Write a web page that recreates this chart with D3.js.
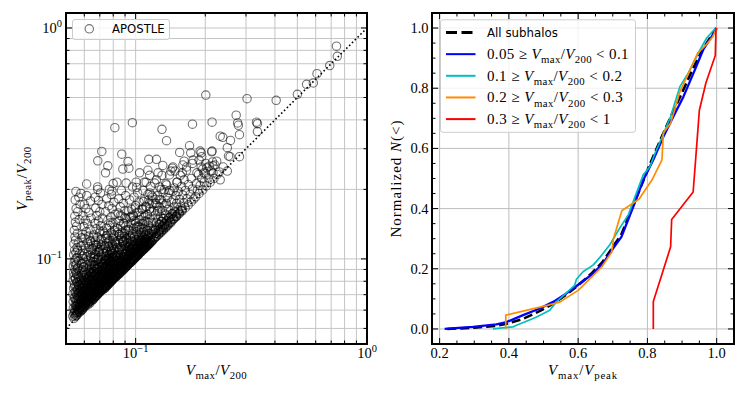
<!DOCTYPE html>
<html><head><meta charset="utf-8">
<script src="https://cdn.jsdelivr.net/npm/d3@7"></script>
<style>body{margin:0;background:#fff}</style>
</head><body>
<svg id="c" width="747" height="396" xmlns="http://www.w3.org/2000/svg"></svg>
<script>
// ---------------- DATA ----------------
// Left panel: APOSTLE subhalos [Vmax/V200, Vpeak/V200]
const apostleOutliers = [
[0.738,0.834],[0.744,0.754],[0.690,0.687],[0.608,0.634],[0.586,0.578],[0.548,0.570],[0.500,0.516],[0.201,0.512],[0.303,0.494],[0.405,0.486],[0.214,0.391],[0.272,0.419],[0.276,0.388],[0.278,0.379],[0.333,0.391],[0.336,0.385],[0.281,0.345],[0.336,0.356],[0.232,0.340],[0.238,0.336],[0.257,0.326],[0.249,0.303],[0.214,0.293],[0.252,0.279],[0.281,0.277],[0.0968,0.389],[0.0813,0.370],[0.130,0.364],[0.136,0.325],[0.176,0.383],[0.171,0.309],[0.155,0.289],[0.0714,0.292],[0.0686,0.266],[0.0758,0.253],[0.0741,0.236],[0.0871,0.284],[0.0927,0.264],[0.088,0.245],[0.0935,0.247],[0.114,0.270],[0.123,0.270],[0.131,0.254],[0.144,0.247],[0.0614,0.211],[0.058,0.192],[0.0686,0.200],
[0.173,0.288],[0.190,0.293],[0.192,0.288],[0.213,0.291],[0.162,0.265],[0.176,0.259],[0.188,0.268],[0.201,0.259],[0.215,0.263],[0.193,0.277],[0.192,0.250],[0.203,0.248],[0.216,0.253],[0.177,0.268],[0.166,0.250],[0.145,0.250],[0.159,0.236],[0.184,0.236],[0.197,0.236],[0.216,0.236],[0.232,0.220],[0.256,0.277],[0.239,0.250],[0.249,0.240],[0.224,0.265],
[0.104,0.236],[0.113,0.242],[0.125,0.236],[0.140,0.231],[0.109,0.215],[0.121,0.213],[0.136,0.209],[0.151,0.215],[0.101,0.204],[0.091,0.213],[0.083,0.215],[0.079,0.197],[0.115,0.193],[0.145,0.197]
];
const apostleBandA = [
[0.0535,0.0565],[0.0540,0.0580],[0.0552,0.0571],[0.0560,0.0590],[0.0545,0.0600],[0.0538,0.0612],[0.0571,0.0603],[0.0556,0.0625],[0.0548,0.0638],[0.0565,0.0645],[0.0537,0.0652],[0.0578,0.0660],[0.0551,0.0668],[0.0542,0.0680],[0.0569,0.0684],[0.0558,0.0697],[0.0536,0.0705],[0.0547,0.0718],[0.0575,0.0722],[0.0562,0.0735],[0.0539,0.0748],[0.0553,0.0756],[0.0570,0.0768],[0.0544,0.0779],[0.0560,0.0790],[0.0537,0.0805],[0.0549,0.0818],[0.0566,0.0826],[0.0541,0.0842],[0.0557,0.0855],[0.0539,0.0870],[0.0551,0.0884],[0.0546,0.0900],[0.0563,0.0913],[0.0538,0.0930],[0.0555,0.0948],[0.0543,0.0968],[0.0548,0.0990],[0.0560,0.1010],[0.0540,0.1040],[0.0552,0.1062],[0.0545,0.1090],[0.0558,0.1120],[0.0541,0.1160],[0.0550,0.1205],[0.0547,0.1245],[0.0560,0.1290],[0.0543,0.1330],[0.0556,0.1385],[0.0549,0.1440],[0.0570,0.1480],[0.0546,0.1530],[0.0562,0.1600],[0.0553,0.1650],[0.0575,0.1720],[0.0548,0.1800],[0.0568,0.1850],[0.0552,0.1960]
];
const apostleBandB = [
[0.0585,0.0600],[0.0592,0.0612],[0.0601,0.0620],[0.0610,0.0628],[0.0588,0.0635],[0.0620,0.0640],[0.0598,0.0648],[0.0632,0.0655],[0.0606,0.0660],[0.0615,0.0668],[0.0590,0.0675],[0.0640,0.0670],[0.0625,0.0682],[0.0603,0.0690],[0.0645,0.0695],[0.0612,0.0702],[0.0586,0.0710],[0.0630,0.0712],[0.0597,0.0722],[0.0620,0.0728],[0.0648,0.0735],[0.0608,0.0740],[0.0589,0.0750],[0.0636,0.0752],[0.0616,0.0762],[0.0600,0.0770],[0.0643,0.0775],[0.0625,0.0782],[0.0593,0.0790],[0.0610,0.0798],[0.0638,0.0805],[0.0585,0.0812],[0.0620,0.0818],[0.0602,0.0828],[0.0647,0.0832],[0.0630,0.0842],[0.0592,0.0850],[0.0614,0.0858],[0.0640,0.0868],[0.0600,0.0876],[0.0625,0.0885],[0.0588,0.0895],[0.0610,0.0905],[0.0645,0.0910],[0.0596,0.0922],[0.0632,0.0930],[0.0618,0.0945],[0.0587,0.0955],[0.0604,0.0968],[0.0640,0.0975],[0.0622,0.0990],[0.0594,0.1005],[0.0612,0.1020],[0.0636,0.1035],[0.0600,0.1050],[0.0625,0.1068],[0.0589,0.1085],[0.0646,0.1090],[0.0608,0.1110],[0.0630,0.1130],[0.0595,0.1150],[0.0618,0.1175],[0.0640,0.1200],[0.0603,0.1225],[0.0626,0.1255],[0.0590,0.1280],[0.0612,0.1310],[0.0635,0.1345],[0.0598,0.1380],[0.0620,0.1420],[0.0606,0.1470],[0.0642,0.1500],[0.0592,0.1540],[0.0628,0.1590],[0.0610,0.1650],[0.0600,0.1720],[0.0638,0.1780],[0.0615,0.1880]
];
const apostleBandC = [
[0.0652,0.0665],[0.0660,0.0680],[0.0670,0.0688],[0.0655,0.0700],[0.0680,0.0700],[0.0665,0.0712],[0.0690,0.0715],[0.0675,0.0725],[0.0658,0.0732],[0.0700,0.0730],[0.0685,0.0740],[0.0668,0.0748],[0.0712,0.0745],[0.0695,0.0755],[0.0655,0.0762],[0.0678,0.0765],[0.0720,0.0760],[0.0705,0.0772],[0.0662,0.0780],[0.0688,0.0785],[0.0725,0.0778],[0.0672,0.0795],[0.0698,0.0800],[0.0656,0.0808],[0.0715,0.0810],[0.0682,0.0818],[0.0665,0.0826],[0.0705,0.0830],[0.0692,0.0840],[0.0658,0.0848],[0.0725,0.0845],[0.0675,0.0855],[0.0710,0.0862],[0.0686,0.0870],[0.0663,0.0880],[0.0700,0.0888],[0.0720,0.0895],[0.0678,0.0902],[0.0655,0.0910],[0.0693,0.0918],[0.0712,0.0928],[0.0668,0.0938],[0.0685,0.0950],[0.0728,0.0955],[0.0702,0.0965],[0.0660,0.0975],[0.0676,0.0988],[0.0718,0.0995],[0.0690,0.1008],[0.0657,0.1020],[0.0708,0.1030],[0.0672,0.1045],[0.0725,0.1055],[0.0688,0.1068],[0.0662,0.1085],[0.0700,0.1100],[0.0680,0.1120],[0.0715,0.1135],[0.0658,0.1150],[0.0692,0.1170],[0.0670,0.1195],[0.0710,0.1215],[0.0684,0.1240],[0.0660,0.1270],[0.0698,0.1295],[0.0722,0.1320],[0.0675,0.1350],[0.0705,0.1390],[0.0665,0.1425],[0.0690,0.1460],[0.0718,0.1500],[0.0680,0.1540],[0.0700,0.1600],[0.0672,0.1660],[0.0715,0.1720],[0.0690,0.1790],[0.0668,0.1850],[0.0705,0.1930],[0.0685,0.2050]
];
const apostleBandD = [
[0.0735,0.0745],[0.0745,0.0760],[0.0755,0.0770],[0.0740,0.0778],[0.0768,0.0782],[0.0750,0.0792],[0.0780,0.0795],[0.0762,0.0805],[0.0738,0.0812],[0.0790,0.0808],[0.0772,0.0818],[0.0748,0.0825],[0.0800,0.0820],[0.0785,0.0832],[0.0758,0.0838],[0.0810,0.0835],[0.0742,0.0848],[0.0795,0.0848],[0.0770,0.0852],[0.0815,0.0850],[0.0752,0.0862],[0.0782,0.0866],[0.0805,0.0870],[0.0738,0.0878],[0.0765,0.0882],[0.0792,0.0888],[0.0748,0.0895],[0.0818,0.0895],[0.0775,0.0902],[0.0802,0.0910],[0.0758,0.0918],[0.0740,0.0928],[0.0786,0.0930],[0.0812,0.0940],[0.0768,0.0945],[0.0750,0.0958],[0.0796,0.0962],[0.0778,0.0975],[0.0742,0.0985],[0.0808,0.0990],[0.0760,0.1000],[0.0788,0.1012],[0.0745,0.1025],[0.0815,0.1030],[0.0770,0.1042],[0.0798,0.1058],[0.0752,0.1070],[0.0780,0.1088],[0.0810,0.1100],[0.0740,0.1115],[0.0765,0.1130],[0.0795,0.1150],[0.0750,0.1172],[0.0818,0.1185],[0.0775,0.1200],[0.0744,0.1225],[0.0802,0.1245],[0.0760,0.1270],[0.0785,0.1300],[0.0812,0.1330],[0.0748,0.1360],[0.0772,0.1395],[0.0798,0.1430],[0.0758,0.1470],[0.0782,0.1520],[0.0815,0.1560],[0.0742,0.1600],[0.0790,0.1650],[0.0765,0.1700],[0.0805,0.1760],[0.0750,0.1820],[0.0785,0.1900],[0.0770,0.2000],[0.0800,0.2120]
];
const apostleBandE = [
[0.0825,0.0838],[0.0835,0.0850],[0.0848,0.0860],[0.0830,0.0872],[0.0860,0.0875],[0.0842,0.0885],[0.0872,0.0888],[0.0855,0.0898],[0.0885,0.0900],[0.0828,0.0905],[0.0868,0.0910],[0.0898,0.0912],[0.0845,0.0920],[0.0880,0.0925],[0.0910,0.0925],[0.0858,0.0935],[0.0832,0.0942],[0.0892,0.0940],[0.0870,0.0950],[0.0905,0.0955],[0.0845,0.0962],[0.0882,0.0968],[0.0915,0.0970],[0.0860,0.0978],[0.0835,0.0988],[0.0895,0.0990],[0.0872,0.1000],[0.0850,0.1012],[0.0908,0.1015],[0.0885,0.1025],[0.0828,0.1035],[0.0862,0.1040],[0.0898,0.1050],[0.0840,0.1062],[0.0875,0.1072],[0.0912,0.1080],[0.0855,0.1092],[0.0888,0.1105],[0.0832,0.1118],[0.0868,0.1130],[0.0902,0.1145],[0.0848,0.1160],[0.0880,0.1180],[0.0838,0.1200],[0.0915,0.1210],[0.0865,0.1225],[0.0895,0.1250],[0.0845,0.1275],[0.0875,0.1300],[0.0905,0.1330],[0.0835,0.1355],[0.0862,0.1385],[0.0890,0.1420],[0.0850,0.1460],[0.0910,0.1490],[0.0872,0.1530],[0.0840,0.1580],[0.0898,0.1620],[0.0858,0.1680],[0.0885,0.1740],[0.0845,0.1820],[0.0905,0.1880],[0.0868,0.1980]
];
const apostleBandF = [
[0.0925,0.0940],[0.0938,0.0955],[0.0952,0.0965],[0.0935,0.0978],[0.0968,0.0980],[0.0948,0.0992],[0.0982,0.0995],[0.0960,0.1008],[0.0995,0.1010],[0.0930,0.1018],[0.0975,0.1022],[0.1010,0.1025],[0.0945,0.1035],[0.0990,0.1040],[0.1025,0.1040],[0.0962,0.1050],[0.1005,0.1058],[0.0938,0.1065],[0.1035,0.1062],[0.0978,0.1072],[0.1018,0.1080],[0.0950,0.1090],[0.0995,0.1095],[0.1042,0.1095],[0.0965,0.1110],[0.1010,0.1118],[0.0932,0.1125],[0.0985,0.1135],[0.1028,0.1140],[0.0955,0.1155],[0.1000,0.1165],[0.0940,0.1180],[0.1040,0.1180],[0.0972,0.1195],[0.1015,0.1210],[0.0948,0.1230],[0.0990,0.1250],[0.1030,0.1265],[0.0962,0.1290],[0.1008,0.1310],[0.0935,0.1335],[0.0980,0.1360],[0.1022,0.1390],[0.0955,0.1420],[0.0998,0.1450],[0.1040,0.1480],[0.0945,0.1510],[0.0975,0.1550],[0.1015,0.1590],[0.0960,0.1640],[0.1000,0.1700],[0.1035,0.1760],[0.0942,0.1800],[0.0985,0.1850],[0.1020,0.1930],[0.0970,0.2050],[0.1005,0.2150]
];
const apostleBandG = [
[0.1055,0.1075],[0.1072,0.1090],[0.1090,0.1105],[0.1065,0.1115],[0.1110,0.1125],[0.1082,0.1132],[0.1130,0.1145],[0.1058,0.1150],[0.1100,0.1155],[0.1150,0.1165],[0.1075,0.1170],[0.1120,0.1178],[0.1170,0.1185],[0.1092,0.1192],[0.1060,0.1205],[0.1140,0.1205],[0.1108,0.1215],[0.1185,0.1210],[0.1078,0.1230],[0.1160,0.1235],[0.1125,0.1245],[0.1062,0.1260],[0.1095,0.1268],[0.1175,0.1275],[0.1145,0.1290],[0.1080,0.1305],[0.1115,0.1318],[0.1190,0.1330],[0.1058,0.1345],[0.1160,0.1355],[0.1098,0.1372],[0.1135,0.1395],[0.1070,0.1420],[0.1180,0.1430],[0.1110,0.1455],[0.1150,0.1490],[0.1085,0.1520],[0.1125,0.1560],[0.1170,0.1600],[0.1065,0.1640],[0.1105,0.1690],[0.1145,0.1740],[0.1090,0.1800],[0.1185,0.1850],[0.1130,0.1900],[0.1075,0.1980],[0.1160,0.2060],[0.1110,0.2150],[0.1150,0.2300]
];
const apostleBandH = [
[0.1210,0.1235],[0.1235,0.1255],[0.1262,0.1280],[0.1225,0.1290],[0.1290,0.1305],[0.1250,0.1312],[0.1320,0.1335],[0.1275,0.1340],[0.1215,0.1350],[0.1350,0.1365],[0.1305,0.1372],[0.1240,0.1385],[0.1380,0.1395],[0.1335,0.1405],[0.1265,0.1418],[0.1420,0.1435],[0.1225,0.1440],[0.1295,0.1450],[0.1365,0.1460],[0.1250,0.1480],[0.1320,0.1495],[0.1400,0.1510],[0.1280,0.1525],[0.1215,0.1545],[0.1350,0.1560],[0.1440,0.1570],[0.1240,0.1600],[0.1305,0.1620],[0.1385,0.1640],[0.1265,0.1680],[0.1340,0.1710],[0.1220,0.1740],[0.1425,0.1760],[0.1290,0.1800],[0.1370,0.1840],[0.1245,0.1880],[0.1315,0.1930],[0.1400,0.1980],[0.1270,0.2050],[0.1350,0.2120],[0.1230,0.2200],[0.1300,0.2300],[0.1420,0.2400]
];
const apostleBandI = [
[0.1460,0.1490],[0.1500,0.1525],[0.1545,0.1570],[0.1480,0.1590],[0.1590,0.1615],[0.1525,0.1630],[0.1640,0.1665],[0.1470,0.1680],[0.1570,0.1690],[0.1690,0.1715],[0.1505,0.1740],[0.1615,0.1750],[0.1740,0.1770],[0.1455,0.1800],[0.1550,0.1810],[0.1665,0.1820],[0.1785,0.1820],[0.1495,0.1880],[0.1600,0.1890],[0.1720,0.1900],[0.1530,0.1960],[0.1640,0.1980],[0.1470,0.2030],[0.1760,0.2010],[0.1580,0.2060],[0.1690,0.2100],[0.1510,0.2150],[0.1620,0.2200],[0.1740,0.2230],[0.1560,0.2300],[0.1480,0.2400],[0.1660,0.2420],[0.1600,0.2550]
];
const apostleBandJ = [
[0.1820,0.1860],[0.1880,0.1920],[0.1850,0.1990],[0.1950,0.1990],[0.1900,0.2080],[0.2020,0.2070],[0.1830,0.2120],[0.1980,0.2150],[0.2100,0.2150],[0.1930,0.2230],[0.2060,0.2240],[0.2180,0.2230],[0.1870,0.2320],[0.2000,0.2350],[0.2250,0.2320],[0.2120,0.2400],[0.1950,0.2450],[0.2300,0.2380],[0.2080,0.2520],[0.2200,0.2550]
];
// dense core of the wedge (nearly black in the picture)
const apostleCore1 = [
[0.0541,0.0552],[0.0547,0.0561],[0.0553,0.0566],[0.0559,0.0573],[0.0544,0.0587],[0.0551,0.0594],[0.0563,0.0582],[0.0568,0.0592],[0.0574,0.0589],[0.0580,0.0596],[0.0557,0.0607],[0.0566,0.0614],[0.0583,0.0611],[0.0590,0.0604],[0.0596,0.0619],[0.0549,0.0623],[0.0572,0.0631],[0.0587,0.0628],[0.0603,0.0634],[0.0561,0.0641],[0.0579,0.0647],[0.0594,0.0651],[0.0608,0.0645],[0.0614,0.0656],[0.0554,0.0657],[0.0569,0.0664],[0.0585,0.0671],[0.0600,0.0677],[0.0617,0.0673],[0.0546,0.0676],[0.0563,0.0689],[0.0577,0.0694],[0.0592,0.0699],[0.0608,0.0706],[0.0552,0.0712],[0.0570,0.0716],[0.0586,0.0727],[0.0603,0.0731],[0.0618,0.0742],[0.0559,0.0738],[0.0575,0.0748],[0.0594,0.0757],[0.0545,0.0762],[0.0566,0.0773],[0.0583,0.0781],[0.0610,0.0787],[0.0556,0.0794],[0.0573,0.0803],[0.0598,0.0811],[0.0549,0.0826],[0.0580,0.0834],[0.0565,0.0846],[0.0605,0.0852],[0.0553,0.0866],[0.0588,0.0872],[0.0571,0.0889],[0.0560,0.0912],[0.0596,0.0921],[0.0550,0.0941],[0.0582,0.0958],[0.0567,0.0981],[0.0555,0.1008],[0.0590,0.1028],[0.0572,0.1055],[0.0561,0.1092],[0.0580,0.1138],[0.0565,0.1177],[0.0585,0.1234]
];
const apostleCore2 = [
[0.0622,0.0633],[0.0628,0.0647],[0.0635,0.0644],[0.0641,0.0658],[0.0648,0.0662],[0.0655,0.0668],[0.0624,0.0661],[0.0633,0.0673],[0.0662,0.0676],[0.0669,0.0687],[0.0644,0.0684],[0.0651,0.0691],[0.0676,0.0693],[0.0683,0.0698],[0.0627,0.0694],[0.0638,0.0703],[0.0659,0.0707],[0.0690,0.0708],[0.0697,0.0714],[0.0646,0.0718],[0.0667,0.0723],[0.0674,0.0731],[0.0704,0.0721],[0.0711,0.0731],[0.0630,0.0726],[0.0653,0.0737],[0.0681,0.0742],[0.0688,0.0749],[0.0718,0.0741],[0.0641,0.0753],[0.0661,0.0758],[0.0695,0.0766],[0.0708,0.0772],[0.0625,0.0769],[0.0648,0.0777],[0.0671,0.0781],[0.0686,0.0792],[0.0715,0.0795],[0.0637,0.0798],[0.0657,0.0806],[0.0679,0.0813],[0.0701,0.0821],[0.0630,0.0824],[0.0664,0.0835],[0.0692,0.0846],[0.0645,0.0853],[0.0676,0.0867],[0.0710,0.0871],[0.0655,0.0884],[0.0633,0.0896],[0.0685,0.0902],[0.0667,0.0927],[0.0643,0.0941],[0.0699,0.0948],[0.0654,0.0972],[0.0682,0.0994],[0.0640,0.1013],[0.0665,0.1047],[0.0695,0.1076],[0.0650,0.1108],[0.0678,0.1152],[0.0636,0.1192],[0.0660,0.1238]
];
const apostleCore3 = [
[0.0722,0.0736],[0.0729,0.0751],[0.0737,0.0749],[0.0744,0.0766],[0.0752,0.0764],[0.0760,0.0776],[0.0726,0.0768],[0.0734,0.0783],[0.0768,0.0785],[0.0776,0.0796],[0.0742,0.0793],[0.0750,0.0806],[0.0784,0.0800],[0.0792,0.0813],[0.0730,0.0808],[0.0758,0.0817],[0.0800,0.0818],[0.0808,0.0826],[0.0766,0.0829],[0.0773,0.0841],[0.0816,0.0834],[0.0824,0.0842],[0.0739,0.0837],[0.0747,0.0851],[0.0781,0.0849],[0.0789,0.0859],[0.0832,0.0853],[0.0840,0.0861],[0.0727,0.0858],[0.0755,0.0867],[0.0797,0.0873],[0.0805,0.0884],[0.0763,0.0889],[0.0813,0.0898],[0.0736,0.0896],[0.0771,0.0907],[0.0821,0.0913],[0.0745,0.0919],[0.0787,0.0923],[0.0829,0.0932],[0.0754,0.0941],[0.0796,0.0949],[0.0733,0.0953],[0.0779,0.0967],[0.0812,0.0975],[0.0762,0.0986],[0.0743,0.1005],[0.0795,0.1018],[0.0827,0.1032],[0.0770,0.1049],[0.0751,0.1078],[0.0804,0.1093],[0.0784,0.1121],[0.0738,0.1142],[0.0818,0.1166],[0.0764,0.1187],[0.0795,0.1226],[0.0748,0.1258]
];
const apostleCore4 = [
[0.0852,0.0868],[0.0861,0.0884],[0.0870,0.0882],[0.0879,0.0901],[0.0888,0.0899],[0.0897,0.0914],[0.0856,0.0903],[0.0866,0.0917],[0.0906,0.0921],[0.0915,0.0936],[0.0875,0.0929],[0.0884,0.0944],[0.0924,0.0941],[0.0933,0.0955],[0.0859,0.0948],[0.0893,0.0957],[0.0942,0.0958],[0.0951,0.0972],[0.0902,0.0972],[0.0911,0.0986],[0.0960,0.0978],[0.0969,0.0993],[0.0868,0.0979],[0.0920,0.1001],[0.0978,0.1000],[0.0987,0.1012],[0.0929,0.1019],[0.0880,0.1011],[0.0938,0.1038],[0.0996,0.1021],[0.0890,0.1046],[0.0947,0.1057],[0.0905,0.1071],[0.0956,0.1079],[0.0985,0.1063],[0.0917,0.1098],[0.0965,0.1112],[0.0872,0.1098],[0.0940,0.1132],[0.0897,0.1135],[0.0975,0.1148],[0.0925,0.1171],[0.0883,0.1182],[0.0953,0.1196],[0.0910,0.1224],[0.0990,0.1238],[0.0935,0.1262],[0.0895,0.1290]
];
const apostleCore5 = [
[0.1005,0.1022],[0.1018,0.1041],[0.1031,0.1047],[0.1044,0.1068],[0.1057,0.1072],[0.1012,0.1060],[0.1070,0.1093],[0.1083,0.1099],[0.1026,0.1082],[0.1039,0.1103],[0.1096,0.1119],[0.1109,0.1126],[0.1052,0.1111],[0.1065,0.1130],[0.1122,0.1144],[0.1135,0.1153],[0.1008,0.1107],[0.1078,0.1149],[0.1148,0.1170],[0.1161,0.1181],[0.1091,0.1166],[0.1020,0.1144],[0.1174,0.1196],[0.1187,0.1206],[0.1104,0.1188],[0.1048,0.1176],[0.1200,0.1224],[0.1117,0.1211],[0.1213,0.1238],[0.1062,0.1205],[0.1130,0.1234],[0.1226,0.1252],[0.1086,0.1236],[0.1143,0.1262],[0.1030,0.1241],[0.1170,0.1285],[0.1100,0.1277],[0.1195,0.1309],[0.1058,0.1302],[0.1125,0.1326],[0.1220,0.1340],[0.1080,0.1355]
];
const apostleCore6 = [
[0.1255,0.1280],[0.1270,0.1302],[0.1288,0.1314],[0.1304,0.1338],[0.1322,0.1350],[0.1262,0.1326],[0.1340,0.1372],[0.1358,0.1386],[0.1282,0.1361],[0.1376,0.1409],[0.1394,0.1424],[0.1310,0.1394],[0.1412,0.1446],[0.1430,0.1461],[0.1336,0.1424],[0.1448,0.1484],[0.1466,0.1499],[0.1362,0.1462],[0.1484,0.1522],[0.1502,0.1536],[0.1268,0.1410],[0.1390,0.1498],[0.1520,0.1561],[0.1296,0.1453],[0.1418,0.1531],[0.1545,0.1588],[0.1325,0.1496],[0.1440,0.1570],[0.1570,0.1615],[0.1350,0.1542],[0.1472,0.1605],[0.1595,0.1643]
];
const apostleCore7 = [
[0.0556,0.0583],[0.0563,0.0603],[0.0569,0.0596],[0.0576,0.0614],[0.0581,0.0625],[0.0589,0.0616],[0.0593,0.0636],[0.0601,0.0643],[0.0607,0.0635],[0.0612,0.0655],[0.0620,0.0663],[0.0627,0.0654],[0.0631,0.0675],[0.0640,0.0683],[0.0646,0.0674],[0.0651,0.0695],[0.0659,0.0703],[0.0666,0.0694],[0.0670,0.0716],[0.0679,0.0724],[0.0685,0.0715],[0.0690,0.0738],[0.0698,0.0746],[0.0558,0.0631],[0.0572,0.0639],[0.0583,0.0657],[0.0598,0.0665],[0.0609,0.0685],[0.0624,0.0694],[0.0635,0.0714],[0.0650,0.0723],[0.0661,0.0744],[0.0676,0.0753],[0.0687,0.0774],[0.0561,0.0675],[0.0575,0.0685],[0.0586,0.0706],[0.0601,0.0716],[0.0612,0.0738],[0.0627,0.0748],[0.0638,0.0770],[0.0653,0.0780],[0.0664,0.0802],[0.0679,0.0812],[0.0690,0.0834],[0.0565,0.0712],[0.0578,0.0735],[0.0589,0.0746],[0.0604,0.0769],[0.0615,0.0780],[0.0630,0.0803],[0.0641,0.0814],[0.0656,0.0837],[0.0667,0.0848],[0.0682,0.0871],[0.0568,0.0760],[0.0579,0.0772],[0.0594,0.0796],[0.0605,0.0808],[0.0620,0.0832],[0.0631,0.0844],[0.0646,0.0868],[0.0657,0.0880],[0.0672,0.0904]
];
const apostleCore8 = [
[0.0702,0.0722],[0.0711,0.0744],[0.0719,0.0738],[0.0728,0.0762],[0.0735,0.0755],[0.0744,0.0779],[0.0752,0.0773],[0.0761,0.0797],[0.0769,0.0790],[0.0778,0.0815],[0.0786,0.0808],[0.0795,0.0833],[0.0803,0.0826],[0.0812,0.0851],[0.0820,0.0843],[0.0829,0.0869],[0.0837,0.0861],[0.0846,0.0887],[0.0854,0.0879],[0.0863,0.0905],[0.0871,0.0897],[0.0880,0.0923],[0.0705,0.0783],[0.0718,0.0792],[0.0731,0.0812],[0.0744,0.0821],[0.0757,0.0841],[0.0770,0.0850],[0.0783,0.0871],[0.0796,0.0879],[0.0809,0.0900],[0.0822,0.0909],[0.0835,0.0929],[0.0848,0.0938],[0.0861,0.0958],[0.0874,0.0967],[0.0708,0.0834],[0.0721,0.0851],[0.0734,0.0862],[0.0747,0.0881],[0.0760,0.0893],[0.0773,0.0912],[0.0786,0.0924],[0.0799,0.0943],[0.0812,0.0955],[0.0825,0.0974],[0.0838,0.0986],[0.0851,0.1005],[0.0712,0.0889],[0.0725,0.0907],[0.0738,0.0920],[0.0751,0.0941],[0.0764,0.0953],[0.0777,0.0974],[0.0790,0.0987],[0.0803,0.1008],[0.0816,0.1021],[0.0829,0.1042],[0.0716,0.0948],[0.0729,0.0969],[0.0742,0.0983],[0.0755,0.1004],[0.0768,0.1018],[0.0781,0.1040],[0.0794,0.1054]
];
const apostleCore9 = [
[0.0902,0.0925],[0.0913,0.0948],[0.0924,0.0941],[0.0935,0.0970],[0.0946,0.0963],[0.0957,0.0993],[0.0968,0.0985],[0.0979,0.1016],[0.0990,0.1008],[0.1001,0.1039],[0.1012,0.1030],[0.1023,0.1062],[0.1034,0.1053],[0.1045,0.1085],[0.1056,0.1075],[0.1067,0.1108],[0.1078,0.1098],[0.1089,0.1131],[0.1100,0.1120],[0.1111,0.1154],[0.1122,0.1142],[0.1133,0.1177],[0.1144,0.1165],[0.1155,0.1200],[0.0906,0.0998],[0.0922,0.1009],[0.0938,0.1034],[0.0954,0.1045],[0.0970,0.1070],[0.0986,0.1081],[0.1002,0.1106],[0.1018,0.1117],[0.1034,0.1142],[0.1050,0.1153],[0.1066,0.1178],[0.1082,0.1189],[0.1098,0.1214],[0.0910,0.1058],[0.0926,0.1079],[0.0942,0.1092],[0.0958,0.1114],[0.0974,0.1127],[0.0990,0.1150],[0.1006,0.1163],[0.1022,0.1186],[0.1038,0.1199],[0.1054,0.1222]
];
const apostleCore10 = [
[0.0662,0.0940],[0.0671,0.1147],[0.0683,0.0908],[0.0694,0.1097],[0.0702,0.1320],[0.0714,0.0921],[0.0725,0.1102],[0.0733,0.1290],[0.0747,0.1031],[0.0756,0.1232],[0.0768,0.1006],[0.0779,0.1433],[0.0791,0.1163],[0.0800,0.1016],[0.0812,0.1372],[0.0823,0.1160],[0.0836,0.1304],[0.0848,0.1102],[0.0859,0.1538],[0.0871,0.1254],[0.0884,0.1432],[0.0893,0.1197],[0.0907,0.1388],[0.0918,0.1175],[0.0931,0.1611],[0.0944,0.1322],[0.0957,0.1522],[0.0969,0.1279],[0.0983,0.1465],[0.0996,0.1663],[0.1010,0.1374],[0.1027,0.1592],[0.1043,0.1345],[0.1061,0.1538],[0.1078,0.1768],[0.1096,0.1458],[0.1113,0.1681],[0.1134,0.1440],[0.1152,0.1647],[0.1175,0.1880],[0.1198,0.1617],[0.1222,0.1809],[0.1247,0.1621],[0.1273,0.1808],[0.1301,0.1743],[0.1330,0.1995],[0.1358,0.1738],[0.1392,0.1935],
[0.0665,0.1011],[0.0688,0.0998],[0.0709,0.1149],[0.0737,0.0988],[0.0760,0.1132],[0.0786,0.1077],[0.0805,0.1272],[0.0829,0.1119],[0.0852,0.1278],[0.0877,0.1201],[0.0899,0.1510],[0.0925,0.1341],[0.0950,0.1245],[0.0975,0.1531],[0.1002,0.1423],[0.1035,0.1377],[0.1068,0.1645],[0.1105,0.1536],[0.1140,0.1801],[0.1185,0.1730],[0.1235,0.1704],[0.1290,0.2000]
];
const oneToOne = [0.05, 1.0];

// Right panel: normalized cumulative distributions of Vmax/Vpeak
const allX    = [0.222,0.30,0.36,0.40,0.44,0.49,0.53,0.57,0.605,0.64,0.67,0.70,0.725,0.75,0.78,0.81,0.84,0.87,0.90,0.93,0.96,0.985,1.0];
const allY    = [0,0.004,0.010,0.019,0.033,0.060,0.085,0.118,0.150,0.186,0.222,0.272,0.315,0.385,0.470,0.555,0.635,0.712,0.785,0.862,0.930,0.975,1.0];
const blueX   = [0.2145,0.296,0.364,0.393,0.441,0.489,0.528,0.566,0.605,0.643,0.672,0.701,0.725,0.759,0.788,0.817,0.846,0.875,0.904,0.937,0.961,0.986,0.998];
const blueY   = [0,0.007,0.015,0.023,0.046,0.068,0.090,0.118,0.151,0.184,0.218,0.268,0.306,0.406,0.495,0.562,0.639,0.706,0.772,0.861,0.928,0.972,1.0];
const cyanX   = [0.354,0.412,0.422,0.470,0.480,0.518,0.537,0.566,0.590,0.595,0.614,0.643,0.663,0.692,0.711,0.720,0.745,0.759,0.788,0.807,0.822,0.841,0.867,0.894,0.918,0.947,0.971,0.997];
const cyanY   = [0,0.007,0.012,0.035,0.040,0.062,0.090,0.120,0.145,0.165,0.190,0.212,0.238,0.281,0.318,0.335,0.380,0.423,0.512,0.539,0.584,0.634,0.706,0.806,0.850,0.917,0.967,1.0];
const orangeX = [0.391,0.391,0.514,0.548,0.601,0.668,0.697,0.702,0.726,0.776,0.813,0.842,0.846,0.867,0.894,0.945,0.970,0.988,1.0];
const orangeY = [0,0.046,0.079,0.090,0.129,0.206,0.256,0.300,0.393,0.432,0.495,0.562,0.652,0.684,0.789,0.917,0.945,0.970,1.0];
const redX    = [0.817,0.817,0.842,0.867,0.870,0.932,0.938,0.944,0.950,0.969,0.996,0.998];
const redY    = [0,0.091,0.182,0.273,0.364,0.455,0.545,0.636,0.727,0.818,0.909,1.0];

const legendLabels = ["All subhalos","0.05","0.1","0.2","0.3"];
const legendUpper  = ["","0.1","0.2","0.3","1"];
const rightXTicks = [0.2,0.4,0.6,0.8,1.0];
const rightYTicks = [0.0,0.2,0.4,0.6,0.8,1.0];
const leftMajorTicks = [0.1, 1];
const leftMajorExp = ["\u22121","0"];

// ---------------- DRAW ----------------
const svg = d3.select("#c");
svg.append("rect").attr("width",747).attr("height",396).attr("fill","#fff");
const SERIF = "'Liberation Serif','DejaVu Serif',serif";
const SANS = "'DejaVu Sans',sans-serif";
const FS = 14.5;

function rich(sel, parts, size){
  let off = 0;
  parts.forEach(p=>{
    const target = p.sub ? size*0.28 : (p.sup ? -size*0.42 : 0);
    const ts = sel.append("tspan").text(p.t);
    if (target-off !== 0) ts.attr("dy", target-off);
    off = target;
    if (p.sub || p.sup) ts.attr("font-size", size*0.72);
    if (p.i) ts.attr("font-style","italic");
  });
  return sel;
}
// stretch a text to the width measured on the picture
function fit(sel, target){
  const w = sel.node().getComputedTextLength();
  const n = sel.text().length;
  if (n > 1) sel.attr("letter-spacing", ((target - w)/(n-1)).toFixed(3));
  return sel;
}

// ---- Left panel ----
const xL = d3.scaleLog().domain([0.05,1]).range([66,367]);
const yL = d3.scaleLog().domain([0.0428,1.161]).range([344,13]);
const gL = svg.append("g");
svg.append("clipPath").attr("id","clipL").append("rect").attr("x",66).attr("y",13).attr("width",301).attr("height",331);

const xLticks = xL.ticks();
const yLticks = yL.ticks();
const gridL = gL.append("g").attr("stroke","#c4c4c4").attr("stroke-width",1);
xLticks.filter(v=>v>0.0501 && v<0.999).forEach(v=>{
  gridL.append("line").attr("x1",xL(v)).attr("x2",xL(v)).attr("y1",13).attr("y2",344);
});
yLticks.filter(v=>v>0.0429).forEach(v=>{
  gridL.append("line").attr("x1",66).attr("x2",367).attr("y1",yL(v)).attr("y2",yL(v));
});

const allApostle = [].concat(apostleBandA,apostleBandB,apostleBandC,apostleBandD,apostleBandE,apostleBandF,apostleBandG,apostleBandH,apostleBandI,apostleBandJ,
  apostleCore1,apostleCore2,apostleCore3,apostleCore4,apostleCore5,apostleCore6,apostleCore7,apostleCore8,apostleCore9,apostleCore10,apostleOutliers);
const plotL = gL.append("g").attr("clip-path","url(#clipL)");
plotL.append("g").selectAll("circle").data(allApostle).join("circle")
  .attr("cx",d=>xL(d[0])).attr("cy",d=>yL(d[1])).attr("r",4.2)
  .attr("fill","none").attr("stroke","#000").attr("stroke-opacity",0.55).attr("stroke-width",1.1);
plotL.append("line").attr("x1",xL(oneToOne[0])).attr("y1",yL(oneToOne[0]))
  .attr("x2",xL(oneToOne[1])).attr("y2",yL(oneToOne[1]))
  .attr("stroke","#000").attr("stroke-width",1.6).attr("stroke-dasharray","1.6,2.4");

const tkL = gL.append("g").attr("stroke","#000").attr("stroke-width",1);
xLticks.forEach(v=>{
  const major = leftMajorTicks.some(m=>Math.abs(m-v)<1e-9);
  const len = major?6:3.5;
  tkL.append("line").attr("x1",xL(v)).attr("x2",xL(v)).attr("y1",344).attr("y2",344-len);
  tkL.append("line").attr("x1",xL(v)).attr("x2",xL(v)).attr("y1",13).attr("y2",13+len);
});
yLticks.forEach(v=>{
  const major = leftMajorTicks.some(m=>Math.abs(m-v)<1e-9);
  const len = major?6:3.5;
  tkL.append("line").attr("y1",yL(v)).attr("y2",yL(v)).attr("x1",66).attr("x2",66+len);
  tkL.append("line").attr("y1",yL(v)).attr("y2",yL(v)).attr("x1",367).attr("x2",367-len);
});
gL.append("rect").attr("x",66).attr("y",13).attr("width",301).attr("height",331)
  .attr("fill","none").attr("stroke","#000").attr("stroke-width",2);

leftMajorTicks.forEach((v,i)=>{
  const tx = gL.append("text").attr("x",xL(v)).attr("y",358).attr("text-anchor","middle")
    .attr("font-family",SERIF).attr("font-size",FS);
  rich(tx,[{t:"10"},{t:leftMajorExp[i],sup:true}],FS);
  const ty = gL.append("text").attr("x",62).attr("y",yL(v)+5).attr("text-anchor","end")
    .attr("font-family",SERIF).attr("font-size",FS);
  rich(ty,[{t:"10"},{t:leftMajorExp[i],sup:true}],FS);
});
fit(rich(gL.append("text").attr("x",216.5).attr("y",375).attr("text-anchor","middle")
  .attr("font-family",SERIF).attr("font-size",15),
  [{t:"V",i:true},{t:"max",sub:true},{t:"/"},{t:"V",i:true},{t:"200",sub:true}],15), 61);
fit(rich(gL.append("text").attr("transform","translate(27,178.5) rotate(-90)").attr("text-anchor","middle")
  .attr("font-family",SERIF).attr("font-size",15),
  [{t:"V",i:true},{t:"peak",sub:true},{t:"/"},{t:"V",i:true},{t:"200",sub:true}],15), 64);

gL.append("rect").attr("x",72.5).attr("y",19.5).attr("width",97).attr("height",20).attr("rx",2.5)
  .attr("fill","#fff").attr("fill-opacity",0.8).attr("stroke","#cccccc").attr("stroke-width",1);
gL.append("circle").attr("cx",89.3).attr("cy",28.8).attr("r",4.2).attr("fill","none")
  .attr("stroke","#000").attr("stroke-opacity",0.55).attr("stroke-width",1.1);
gL.append("text").attr("x",112).attr("y",33).attr("font-family",SANS).attr("font-size",11.7).text("APOSTLE");

// ---- Right panel ----
const xR = d3.scaleLinear().domain([0.178,1.05]).range([432,734]);
const yR = d3.scaleLinear().domain([-0.05,1.05]).range([344,13]);
const gR = svg.append("g");
svg.append("clipPath").attr("id","clipR").append("rect").attr("x",432).attr("y",13).attr("width",302).attr("height",331);
const gridR = gR.append("g").attr("stroke","#bdbdbd").attr("stroke-width",1);
rightXTicks.forEach(v=>gridR.append("line").attr("x1",xR(v)).attr("x2",xR(v)).attr("y1",13).attr("y2",344));
rightYTicks.forEach(v=>gridR.append("line").attr("y1",yR(v)).attr("y2",yR(v)).attr("x1",432).attr("x2",734));

const series = [
  {x:allX,y:allY,color:"#000",w:2.6,dash:"9,4"},
  {x:blueX,y:blueY,color:"#0000ff",w:2.3},
  {x:cyanX,y:cyanY,color:"#00bfbf",w:1.7},
  {x:orangeX,y:orangeY,color:"#ff8c00",w:1.7},
  {x:redX,y:redY,color:"#ff0000",w:1.7}
];
const line = d3.line().x(d=>xR(d[0])).y(d=>yR(d[1]));
const plotR = gR.append("g").attr("clip-path","url(#clipR)");
series.forEach(s=>{
  plotR.append("path").attr("d",line(d3.zip(s.x,s.y))).attr("fill","none")
    .attr("stroke",s.color).attr("stroke-width",s.w).attr("stroke-linejoin","round")
    .attr("stroke-dasharray",s.dash||null);
});

const tkR = gR.append("g").attr("stroke","#000").attr("stroke-width",1);
d3.range(0.2,1.0501,0.05).forEach(v=>{
  const major = rightXTicks.some(m=>Math.abs(m-v)<1e-6);
  const len = major?6:3.5;
  tkR.append("line").attr("x1",xR(v)).attr("x2",xR(v)).attr("y1",344).attr("y2",344-len);
  tkR.append("line").attr("x1",xR(v)).attr("x2",xR(v)).attr("y1",13).attr("y2",13+len);
});
d3.range(0,1.0501,0.05).forEach(v=>{
  const major = rightYTicks.some(m=>Math.abs(m-v)<1e-6);
  const len = major?6:3.5;
  tkR.append("line").attr("y1",yR(v)).attr("y2",yR(v)).attr("x1",432).attr("x2",432+len);
  tkR.append("line").attr("y1",yR(v)).attr("y2",yR(v)).attr("x1",734).attr("x2",734-len);
});
gR.append("rect").attr("x",432).attr("y",13).attr("width",302).attr("height",331)
  .attr("fill","none").attr("stroke","#000").attr("stroke-width",2);
rightXTicks.forEach(v=>{
  gR.append("text").attr("x",xR(v)).attr("y",358).attr("text-anchor","middle")
    .attr("font-family",SERIF).attr("font-size",FS).text(d3.format(".1f")(v));
});
rightYTicks.forEach(v=>{
  gR.append("text").attr("x",428.5).attr("y",yR(v)+5).attr("text-anchor","end")
    .attr("font-family",SERIF).attr("font-size",FS).text(d3.format(".1f")(v));
});
fit(rich(gR.append("text").attr("x",583).attr("y",375).attr("text-anchor","middle")
  .attr("font-family",SERIF).attr("font-size",15),
  [{t:"V",i:true},{t:"max",sub:true},{t:"/"},{t:"V",i:true},{t:"peak",sub:true}],15), 69);
fit(rich(gR.append("text").attr("transform","translate(401,178.5) rotate(-90)").attr("text-anchor","middle")
  .attr("font-family",SERIF).attr("font-size",15),
  [{t:"Normalized "},{t:"N",i:true},{t:"(<)"}],15), 117);

const lg = gR.append("g");
lg.append("rect").attr("x",440.5).attr("y",19.8).attr("width",195).attr("height",112.5).attr("rx",2.5)
  .attr("fill","#fff").attr("fill-opacity",0.8).attr("stroke","#cccccc").attr("stroke-width",1);
const legendWidths = [0,141.5,135,135.7,123.3];
series.forEach((s,i)=>{
  const cy = 32.5 + i*21.65;
  lg.append("line").attr("x1",446).attr("x2",475.5).attr("y1",cy).attr("y2",cy)
    .attr("stroke",s.color).attr("stroke-width",i===0?2.8:2).attr("stroke-dasharray",s.dash?"11,4.5":null);
  if(i===0){
    lg.append("text").attr("x",487).attr("y",cy+4.2).attr("font-family",SANS).attr("font-size",11.8).text(legendLabels[0]);
  } else {
    const t = rich(lg.append("text").attr("x",487).attr("y",cy+5).attr("font-family",SERIF).attr("font-size",15),
      [{t:legendLabels[i]+" \u2265 "},{t:"V",i:true},{t:"max",sub:true},{t:"/"},{t:"V",i:true},{t:"200",sub:true},{t:" < "+legendUpper[i]}],15);
    fit(t, legendWidths[i]);
  }
});
</script>
</body></html>
